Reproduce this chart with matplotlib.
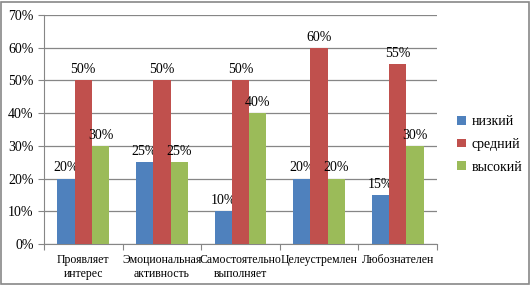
import matplotlib.pyplot as plt
import numpy as np
from matplotlib.patches import Rectangle

plt.rcParams['font.family'] = ['Liberation Serif', 'DejaVu Serif']

categories = ['Проявляет\nинтерес', 'Эмоциональная\nактивность', 'Самостоятельно\nвыполняет',
              'Целеустремлен', 'Любознателен']
series = ['низкий', 'средний', 'высокий']
low = [20, 25, 10, 20, 15]
mid = [50, 50, 50, 60, 55]
high = [30, 25, 40, 20, 30]
colors = ['#4F81BD', '#C0504D', '#9BBB59']

fig = plt.figure(figsize=(5.31, 2.85), dpi=100)
ax = fig.add_axes([44 / 531, 41 / 285, 393 / 531, 229 / 285])
fig.patches.append(Rectangle((0.002, 0.004), 0.995, 0.99, transform=fig.transFigure,
                             fill=False, edgecolor='#888888', lw=1.2))

x = np.arange(len(categories))
w = 0.22
for i, (vals, c, name) in enumerate(zip([low, mid, high], colors, series)):
    bars = ax.bar(x + (i - 1) * w, vals, w, color=c, label=name, zorder=3)
    for b, v in zip(bars, vals):
        ax.annotate(f'{v}%', (b.get_x() + b.get_width() / 2, v), xytext=(0, 3),
                    textcoords='offset points', ha='center', va='bottom', fontsize=10)

ax.set_xlim(-0.5, len(categories) - 0.5)
ax.set_ylim(0, 70)
ax.set_yticks(range(0, 71, 10))
ax.set_yticklabels([f'{t}%' for t in range(0, 71, 10)], fontsize=10)
ax.set_xticks(np.arange(-0.5, len(categories), 1), minor=False)
ax.set_xticklabels([])
ax.set_xticks(x, minor=True)
ax.set_xticklabels(categories, minor=True, fontsize=8.5)
ax.tick_params(axis='x', which='minor', length=0, pad=7)
ax.tick_params(axis='x', which='major', length=4, color='#868686')
ax.tick_params(axis='y', length=4, color='#868686')
ax.yaxis.grid(True, color='#868686', lw=0.9, zorder=0)
for s in ['top', 'right']:
    ax.spines[s].set_visible(False)
for s in ['left', 'bottom']:
    ax.spines[s].set_color('#868686')

ax.legend(loc='center left', bbox_to_anchor=(1.02, 0.435), frameon=False, fontsize=10,
          handlelength=0.6, handleheight=0.6, handletextpad=0.4, labelspacing=0.7)

fig.savefig('out.png', dpi=100)
